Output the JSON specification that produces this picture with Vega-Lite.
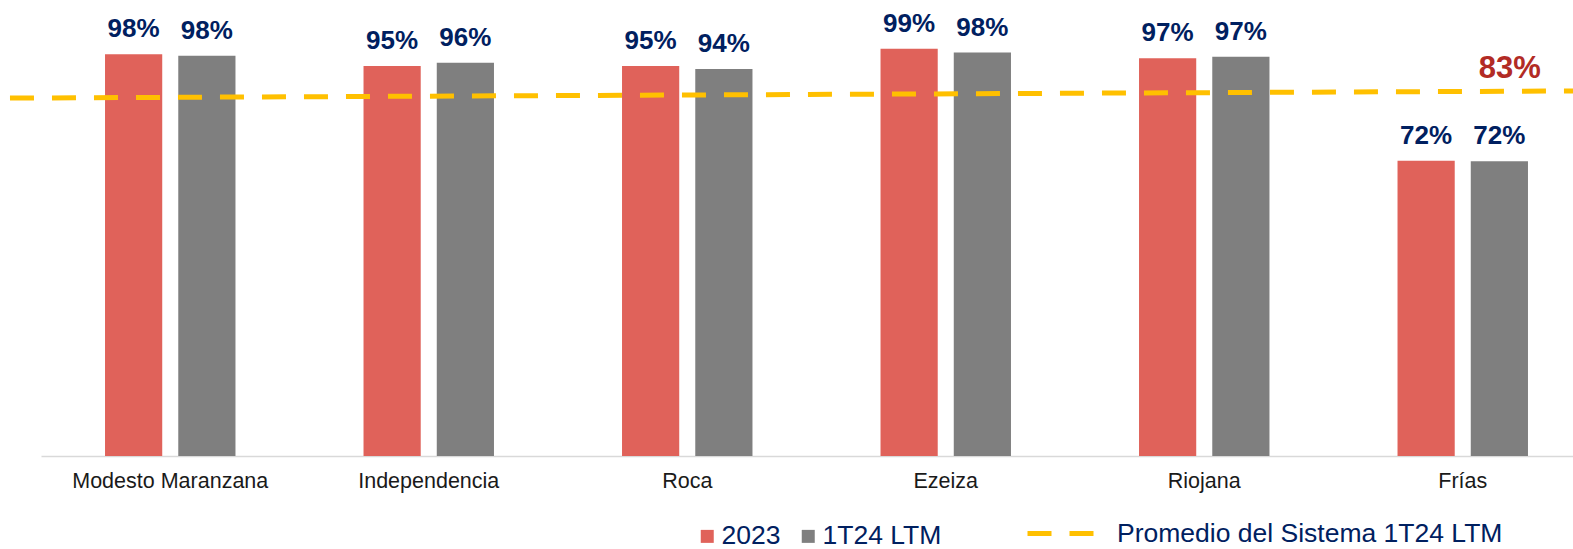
{
  "$schema": "https://vega.github.io/schema/vega-lite/v6.json",
  "width": 1551,
  "height": 410,
  "autosize": "none",
  "padding": {"left": 41, "top": 46, "right": -19, "bottom": 93},
  "background": "white",
  "config": {"view": {"stroke": null}, "font": "Liberation Sans"},
  "datasets": {
    "bars": [
      {"planta": "Modesto Maranzana", "serie": "2023", "valor": 0.980},
      {"planta": "Modesto Maranzana", "serie": "1T24 LTM", "valor": 0.976},
      {"planta": "Independencia", "serie": "2023", "valor": 0.951},
      {"planta": "Independencia", "serie": "1T24 LTM", "valor": 0.959},
      {"planta": "Roca", "serie": "2023", "valor": 0.951},
      {"planta": "Roca", "serie": "1T24 LTM", "valor": 0.944},
      {"planta": "Ezeiza", "serie": "2023", "valor": 0.993},
      {"planta": "Ezeiza", "serie": "1T24 LTM", "valor": 0.984},
      {"planta": "Riojana", "serie": "2023", "valor": 0.970},
      {"planta": "Riojana", "serie": "1T24 LTM", "valor": 0.974},
      {"planta": "Frías", "serie": "2023", "valor": 0.720},
      {"planta": "Frías", "serie": "1T24 LTM", "valor": 0.719}
    ],
    "prom": [
      {"pos": -0.02, "valor": 0.873, "serie": "Promedio del Sistema 1T24 LTM"},
      {"pos": 1.0, "valor": 0.8905, "serie": "Promedio del Sistema 1T24 LTM"}
    ],
    "promlabel": [
      {"pos": 0.947, "valor": 0.889, "texto": "83%"}
    ]
  },
  "layer": [
    {
      "data": {"name": "bars"},
      "encoding": {
        "x": {
          "field": "planta", "type": "nominal", "sort": null,
          "scale": {"paddingInner": 0, "paddingOuter": 0},
          "axis": {
            "title": null, "labelAngle": 0, "ticks": false,
            "domainColor": "#D9D9D9", "domainWidth": 1.5,
            "labelFontSize": 21.5, "labelColor": "#1a1a1a", "labelPadding": 14,
            "labelFont": "Liberation Sans", "labelLimit": 0
          }
        },
        "xOffset": {
          "field": "serie", "type": "nominal", "sort": ["2023", "1T24 LTM"],
          "scale": {"paddingInner": 0.219, "paddingOuter": 0.874}
        },
        "y": {
          "field": "valor", "type": "quantitative",
          "scale": {"domain": [0, 1], "nice": false, "zero": true},
          "axis": null
        }
      },
      "layer": [
        {
          "mark": {"type": "bar"},
          "encoding": {
            "color": {
              "field": "serie", "type": "nominal",
              "scale": {"domain": ["2023", "1T24 LTM"], "range": ["#E0625A", "#7F7F7F"]},
              "legend": {
                "title": null, "orient": "none", "direction": "horizontal",
                "legendX": 653, "legendY": 477,
                "symbolType": "square", "symbolSize": 169, "symbolStrokeWidth": 0,
                "labelFontSize": 26.5, "labelColor": "#002060", "labelFont": "Liberation Sans",
                "labelOffset": 1, "columnPadding": 14, "labelLimit": 0
              }
            }
          }
        },
        {
          "mark": {"type": "text", "baseline": "alphabetic", "dy": -17, "fontSize": 26, "fontWeight": "bold", "color": "#002060", "font": "Liberation Sans"},
          "encoding": {
            "text": {"field": "valor", "type": "quantitative", "format": ".0%"}
          }
        }
      ]
    },
    {
      "data": {"name": "prom"},
      "mark": {"type": "line", "color": "#FFC000", "strokeWidth": 5, "clip": false},
      "encoding": {
        "x": {"field": "pos", "type": "quantitative", "scale": {"domain": [0, 1], "nice": false, "zero": false}, "axis": null},
        "y": {"field": "valor", "type": "quantitative", "scale": {"domain": [0, 1], "nice": false}, "axis": null},
        "strokeDash": {
          "field": "serie", "type": "nominal",
          "scale": {"range": [[24, 18]]},
          "legend": {
            "title": null, "orient": "none", "legendX": 984, "legendY": 452,
            "symbolType": "stroke", "symbolSize": 4356, "symbolStrokeWidth": 5,
            "symbolDash": [24, 18], "symbolStrokeColor": "#FFC000",
            "labelFontSize": 26.5, "labelColor": "#002060", "labelFont": "Liberation Sans",
            "labelOffset": 21, "labelLimit": 0
          }
        }
      }
    },
    {
      "data": {"name": "promlabel"},
      "mark": {"type": "text", "baseline": "alphabetic", "dy": -14, "fontSize": 31, "fontWeight": "bold", "color": "#B22B25", "font": "Liberation Sans"},
      "encoding": {
        "x": {"field": "pos", "type": "quantitative", "scale": {"domain": [0, 1], "nice": false, "zero": false}, "axis": null},
        "y": {"field": "valor", "type": "quantitative", "scale": {"domain": [0, 1], "nice": false}, "axis": null},
        "text": {"field": "texto"}
      }
    }
  ],
  "resolve": {"scale": {"x": "independent"}}
}
